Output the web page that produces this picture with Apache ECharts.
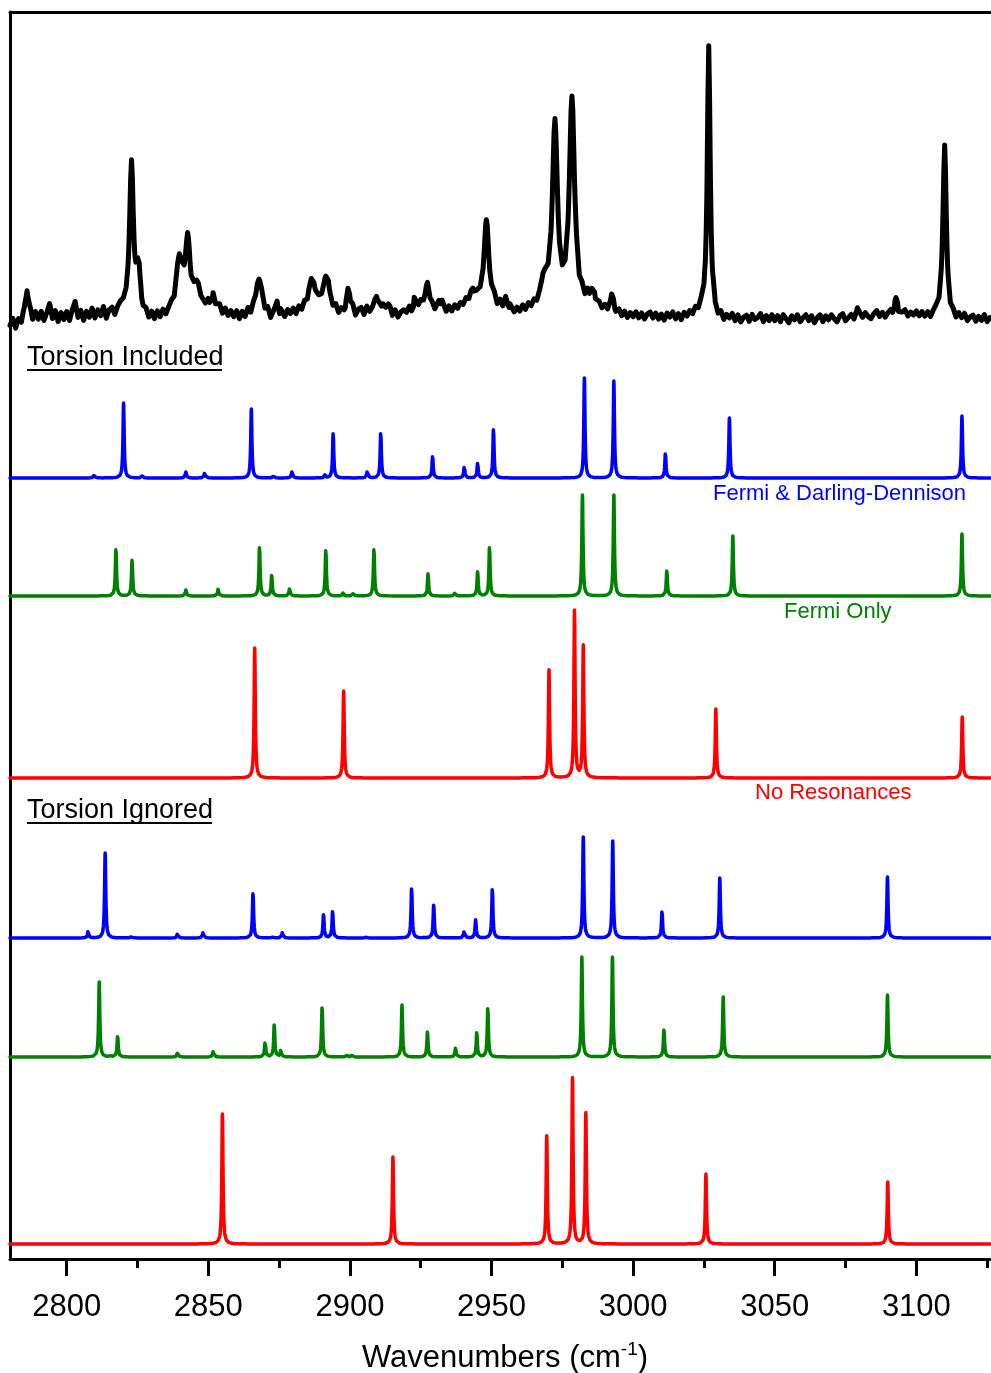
<!DOCTYPE html>
<html>
<head>
<meta charset="utf-8">
<script src="https://cdn.jsdelivr.net/npm/echarts@6/dist/echarts.min.js"></script>
<style>
  html, body { margin: 0; padding: 0; background: #ffffff; }
  #chart { width: 991px; height: 1373px; }
</style>
</head>
<body>
<div id="chart"></div>
<script>
// ---- Wavenumber axis -------------------------------------------------------
const X_MIN = 2780;
const X_MAX = 3126;
const majorTicks = [2800, 2850, 2900, 2950, 3000, 3050, 3100];
const minorTicks = [2825, 2875, 2925, 2975, 3025, 3075, 3125];

// ---- Measured spectrum -----------------------------------------------------
// band centres (cm-1), heights above baseline, widths (FWHM, cm-1)
const expCenters = [2786.0, 2822.9, 2825.3, 2839.8, 2842.7, 2846.2, 2851.7, 2867.9, 2874.6,
                    2886.7, 2891.8, 2899.6, 2910.0, 2913.0, 2923.0, 2927.4, 2932.0, 2944.0,
                    2948.2, 2955.3, 2968.8, 2972.4, 2978.4, 2985.5, 2992.7, 3026.7, 3079.2,
                    3092.8, 3110.0];
const expHeights = [30, 150, 45, 50, 68, 25, 10, 38, 10,
                    30, 33, 25, 12, 8, 10, 31, 14, 12,
                    88, 10, 20, 185, 208, 10, 18, 270, 8,
                    15, 170];
const expWidths  = [1.2, 1.6, 1.6, 2.5, 2.2, 2.5, 3.0, 2.5, 1.0,
                    3.0, 2.8, 1.5, 3.0, 1.0, 2.0, 2.2, 1.2, 5.0,
                    2.0, 1.5, 2.5, 2.2, 2.2, 3.0, 1.2, 1.2, 0.8,
                    1.5, 1.4];
// baseline and noise of the measured trace, one value per cm-1 (2780 ... 3126)
const expBaseline = [
  -8, -1, -11, -2, -7, 2, -3, 4, -4, 5,
  -2, 6, -3, 5, 14, -1, 7, -4, 5, -2,
  6, -3, 8, 16, 0, 7, -3, 6, 0, 9,
  -1, 7, 1, 10, -2, 6, 8, 0, 7, 10,
  8, 6, 5, 3, 2, 1, 3, -2, 2, -5,
  2, -5, 3, -3, 4, -2, 3, 6, 1, 7,
  4, 7, 2, 6, 3, 7, 4, 3, 7, 5,
  10, 5, 12, 4, 9, 1, 7, 0, 5, -1,
  5, -3, 4, -2, 6, -1, 5, 2, 0, 4,
  -1, 5, -4, 3, 7, -2, 5, -1, 6, 2,
  7, 1, 8, 3, 9, 4, 8, 6, 5, 7,
  6, 8, 7, 4, 1, 7, 0, 5, 1, 6,
  0, 7, -1, 6, 8, 1, 9, 3, 6, 10,
  6, 3, 7, 1, 8, 0, 6, -1, 4, 6,
  3, 8, 1, 9, 5, 10, 4, 3, 0, 5,
  2, 7, 0, 8, 3, 9, 4, 10, 6, 11,
  8, 13, 9, 14, 10, 9, 8, 7, 6, 8,
  10, 14, 6, 12, 5, 9, 3, 8, 2, 7,
  3, 9, 4, 10, 6, 11, 7, 12, 14, 10,
  8, 6, 5, 4, 3, 4, 5, 6, 7, 8,
  12, 7, 14, 8, 15, 9, 13, 8, 10, 5,
  9, 4, 7, 3, 1, 6, 0, 5, -1, 4,
  0, 5, -1, 4, -2, 3, 5, -1, 4, -2,
  3, -3, 4, 0, 5, -2, 3, -3, 4, 0,
  5, 1, 7, 3, 8, 4, 3, 2, 1, -1,
  -4, 2, -5, 1, -2, 3, -4, 2, -5, 0,
  2, -4, 3, -2, 0, 4, -4, 2, -3, 3,
  -3, 2, -4, 3, -1, -5, 2, -2, 3, -4,
  0, 3, -3, 2, -5, 0, 3, -4, 2, -2,
  3, -1, -4, 2, 4, -3, 0, 3, -2, 2,
  4, 0, 5, 1, -1, 4, 7, 1, 5, 0,
  4, 6, 1, 5, 0, 4, 7, 1, 5, 2,
  6, 1, 5, 0, 4, -2, 3, 5, 2, 6,
  3, 0, -3, 1, -4, 2, -2, 3, -4, 0,
  2, -4, 1, -3, 3, -4, 0
];

// ---- Computed line lists, torsion included ---------------------------------
const inclFermiDDPos = [2809.8, 2820.1, 2826.6, 2842.1, 2848.8, 2865.2, 2872.9, 2879.6, 2891.2, 2894.1,
                        2906.2, 2910.9, 2929.2, 2940.4, 2945.1, 2950.7, 2982.8, 2993.2, 3011.4, 3034.0,
                        3116.1];
const inclFermiDDInt = [4, 75, 2, 6, 6, 69, 2, 7, 3, 46,
                        8, 46, 22, 12, 15, 50, 100, 97, 25, 60,
                        62];
const inclFermiPos   = [2817.4, 2823.1, 2842.1, 2853.5, 2868.1, 2872.4, 2878.7, 2891.5, 2897.6, 2901.2,
                        2908.5, 2927.6, 2937.1, 2945.1, 2949.3, 2982.1, 2993.2, 3011.9, 3035.2, 3116.1];
const inclFermiInt   = [48, 37, 6, 7, 50, 21, 8, 47, 3, 2.5,
                        48, 23, 3, 25, 50, 101, 101, 26, 60, 62];
const inclNoResPos   = [2866.4, 2897.8, 2970.3, 2979.3, 2982.4, 3029.2, 3116.2];
const inclNoResInt   = [130, 87, 108, 167, 132, 69, 61];

// ---- Computed line lists, torsion ignored ----------------------------------
const ignFermiDDPos  = [2807.6, 2813.6, 2822.9, 2839.2, 2848.2, 2865.8, 2872.9, 2876.2, 2890.7, 2893.9,
                        2905.6, 2921.8, 2929.6, 2940.4, 2944.4, 2950.3, 2982.4, 2992.8, 3010.2, 3030.6,
                        3089.8];
const ignFermiDDInt  = [7, 85, 2, 5, 6, 46, 1.5, 6, 24, 27,
                        1.5, 51, 34, 8, 18, 50, 101, 97, 27, 60,
                        61];
const ignFermiPos    = [2811.5, 2815.3, 2818.0, 2839.2, 2851.8, 2870.1, 2873.3, 2875.6, 2890.2, 2898.8,
                        2900.6, 2918.4, 2927.4, 2937.3, 2944.8, 2948.7, 2981.9, 2992.7, 3010.9, 3031.8,
                        3089.8];
const ignFermiInt    = [75, 1.5, 21, 5, 7, 16, 33, 7, 51, 2,
                        2, 52, 26, 9, 25, 50, 100, 100, 28, 60,
                        62];
const ignNoResPos    = [2855.0, 2915.2, 2969.5, 2978.6, 2983.3, 3025.7, 3089.9];
const ignNoResInt    = [130, 87, 108, 166, 131, 70, 62];

// ---- Stacking offsets of the traces (y units) ------------------------------
const offsets = {
  measured: 941,
  inclFermiDD: 781, inclFermi: 663, inclNoRes: 481,
  ignFermiDD: 321, ignFermi: 202, ignNoRes: 15
};
const SIM_FWHM = 0.5;   // Lorentzian width of the computed lines (cm-1)

function lorentz(x, x0, h, fwhm) {
  const t = (x - x0) / (fwhm / 2);
  return h / (1 + t * t);
}

function gridFor(centres, halfSpan, step) {
  const set = new Set();
  for (let x = X_MIN; x <= X_MAX + 1e-9; x += 0.5) set.add(+x.toFixed(3));
  centres.forEach(c => {
    const n = Math.round(halfSpan / step);
    for (let k = -n; k <= n; k++) set.add(+(c + k * step).toFixed(3));
  });
  return [...set].filter(x => x >= X_MIN && x <= X_MAX).sort((a, b) => a - b);
}

function computedTrace(pos, ints, offset) {
  return gridFor(pos, 3, 0.05).map(x => {
    let y = offset;
    for (let i = 0; i < pos.length; i++) y += lorentz(x, pos[i], ints[i], SIM_FWHM);
    return [x, y];
  });
}

function measuredTrace() {
  const set = new Set();
  for (let x = X_MIN; x <= X_MAX; x++) set.add(x);
  expCenters.forEach(c => { for (let k = -4; k <= 4; k++) set.add(+(c + k * 0.3).toFixed(2)); });
  const xs = [...set].filter(x => x >= X_MIN && x <= X_MAX).sort((a, b) => a - b);
  return xs.map(x => {
    let y = offsets.measured + expBaseline[Math.round(x - X_MIN)];
    for (let i = 0; i < expCenters.length; i++) y += lorentz(x, expCenters[i], expHeights[i], expWidths[i]);
    return [x, y];
  });
}

const FONT = '"Liberation Sans", Arial, Helvetica, sans-serif';
const BLUE = '#0000ff', GREEN = '#008000', RED = '#ff0000';

function lineSeries(name, data, color, width) {
  return {
    name, type: 'line', data,
    showSymbol: false, symbol: 'none', silent: true,
    lineStyle: { color, width, join: 'round', cap: 'round' },
    itemStyle: { color },
    animation: false
  };
}

const chart = echarts.init(document.getElementById('chart'), null, { renderer: 'canvas' });

chart.setOption({
  backgroundColor: '#ffffff',
  animation: false,
  grid: { left: 10, right: 1, top: 12, bottom: 114, containLabel: false, outerBoundsMode: 'none' },
  xAxis: [
    {
      type: 'value', min: X_MIN, max: X_MAX, position: 'bottom',
      name: '{a|Wavenumbers (cm}{s|-1}{a|)}',
      nameLocation: 'middle', nameGap: 81,
      nameTextStyle: {
        padding: [0, 0, 0, 10],
        rich: {
          a: { fontFamily: FONT, fontSize: 31, color: '#000', lineHeight: 36 },
          s: { fontFamily: FONT, fontSize: 19, color: '#000', lineHeight: 19, verticalAlign: 'top' }
        }
      },
      axisLine: { show: true, lineStyle: { color: '#000', width: 3 } },
      axisTick: { show: true, customValues: majorTicks, length: 17, lineStyle: { color: '#000', width: 3 } },
      axisLabel: {
        show: true, customValues: majorTicks, margin: 33,
        fontFamily: FONT, fontSize: 31, color: '#000',
        formatter: v => String(v)
      },
      splitLine: { show: false }
    },
    {
      type: 'value', min: X_MIN, max: X_MAX, position: 'bottom',
      axisLine: { show: false },
      axisTick: { show: true, customValues: minorTicks, length: 9, lineStyle: { color: '#000', width: 3 } },
      axisLabel: { show: false },
      splitLine: { show: false }
    },
    {
      type: 'value', min: X_MIN, max: X_MAX, position: 'top',
      axisLine: { show: true, lineStyle: { color: '#000', width: 3 } },
      axisTick: { show: false },
      axisLabel: { show: false },
      splitLine: { show: false }
    }
  ],
  yAxis: {
    type: 'value', min: 0, max: 1247,
    axisLine: { show: true, lineStyle: { color: '#000', width: 3 } },
    axisTick: { show: false },
    axisLabel: { show: false },
    splitLine: { show: false }
  },
  series: [
    lineSeries('Measured', measuredTrace(), '#000000', 5),
    lineSeries('Torsion included: Fermi & Darling-Dennison',
               computedTrace(inclFermiDDPos, inclFermiDDInt, offsets.inclFermiDD), BLUE, 3.5),
    lineSeries('Torsion included: Fermi only',
               computedTrace(inclFermiPos, inclFermiInt, offsets.inclFermi), GREEN, 3.5),
    lineSeries('Torsion included: no resonances',
               computedTrace(inclNoResPos, inclNoResInt, offsets.inclNoRes), RED, 3.5),
    lineSeries('Torsion ignored: Fermi & Darling-Dennison',
               computedTrace(ignFermiDDPos, ignFermiDDInt, offsets.ignFermiDD), BLUE, 3.5),
    lineSeries('Torsion ignored: Fermi only',
               computedTrace(ignFermiPos, ignFermiInt, offsets.ignFermi), GREEN, 3.5),
    lineSeries('Torsion ignored: no resonances',
               computedTrace(ignNoResPos, ignNoResInt, offsets.ignNoRes), RED, 3.5)
  ],
  graphic: [
    { type: 'text', x: 27, y: 358, silent: true,
      style: { text: 'Torsion Included', fontFamily: FONT, fontSize: 27, fill: '#000', align: 'left', verticalAlign: 'middle' } },
    { type: 'line', silent: true, shape: { x1: 27, y1: 370, x2: 222, y2: 370 }, style: { stroke: '#000', lineWidth: 2 } },
    { type: 'text', x: 27, y: 811, silent: true,
      style: { text: 'Torsion Ignored', fontFamily: FONT, fontSize: 27, fill: '#000', align: 'left', verticalAlign: 'middle' } },
    { type: 'line', silent: true, shape: { x1: 27, y1: 823, x2: 212, y2: 823 }, style: { stroke: '#000', lineWidth: 2 } },
    { type: 'text', x: 713, y: 494, silent: true,
      style: { text: 'Fermi & Darling-Dennison', fontFamily: FONT, fontSize: 22, fill: BLUE, align: 'left', verticalAlign: 'middle' } },
    { type: 'text', x: 784, y: 612, silent: true,
      style: { text: 'Fermi Only', fontFamily: FONT, fontSize: 22, fill: GREEN, align: 'left', verticalAlign: 'middle' } },
    { type: 'text', x: 755, y: 793, silent: true,
      style: { text: 'No Resonances', fontFamily: FONT, fontSize: 22, fill: RED, align: 'left', verticalAlign: 'middle' } }
  ]
});
</script>
</body>
</html>
